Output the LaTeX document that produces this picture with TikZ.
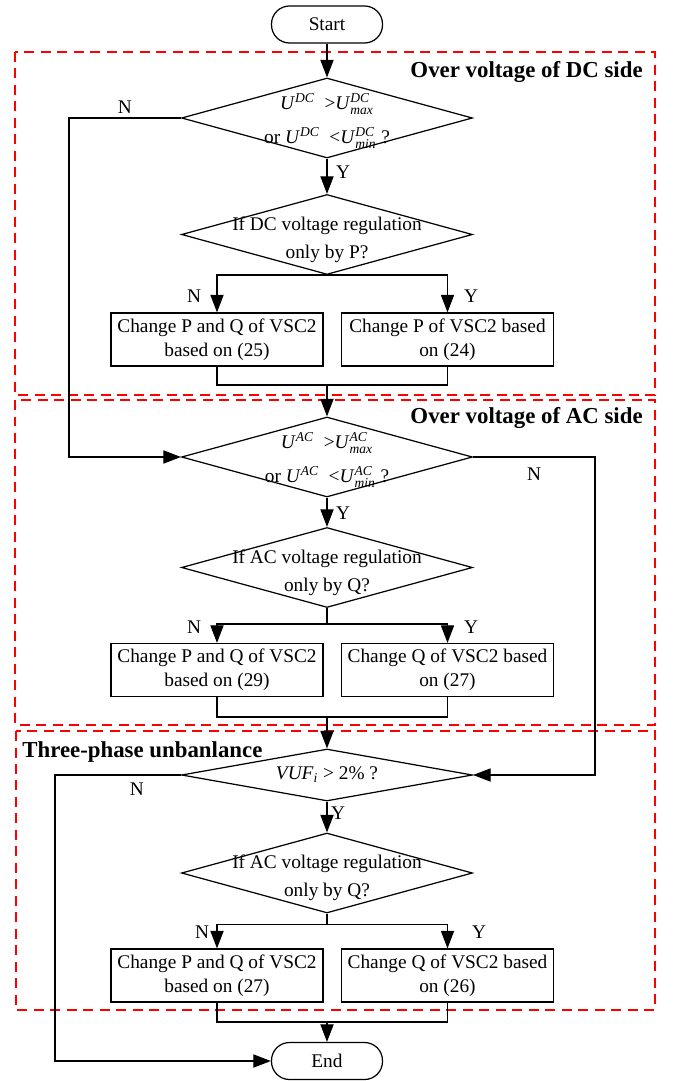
\documentclass[tikz,border=0pt]{standalone}
\usepackage{amsmath}
\usepackage{fontspec}
\setmainfont{Liberation Serif}
\usetikzlibrary{shapes.geometric,arrows.meta}

\newcommand{\uvar}[1]{\textit{U}$^{\textit{#1}}$}
\newcommand{\ulim}[2]{\textit{U}$^{\textit{#1}}_{\textit{#2}}$}

\begin{document}
\begin{tikzpicture}[
    x=0.02cm, y=-0.02cm,
    every node/.style={font=\fontsize{11pt}{13.6pt}\selectfont},
    terminal/.style={rectangle, draw, rounded corners=0.36cm, minimum width=2.22cm, minimum height=0.74cm, line width=0.7pt},
    decision/.style={diamond, draw, inner sep=0pt, minimum width=5.82cm, minimum height=1.6cm, line width=0.7pt},
    dtext/.style={align=center, inner sep=0pt, font=\fontsize{11pt}{16pt}\selectfont},
    twoline/.style={dtext, yshift=-0.1cm},
    process/.style={rectangle, draw, align=center, minimum width=4.24cm, minimum height=1.06cm, inner sep=1pt, line width=0.7pt},
    yn/.style={inner sep=0pt},
    sectitle/.style={inner sep=0pt, font=\fontsize{13pt}{15pt}\selectfont\bfseries},
    zone/.style={draw=red, line width=1.1pt, dash pattern=on 0.2cm off 0.13cm},
    link/.style={line width=0.7pt},
    arr/.style={line width=0.7pt, -{Triangle[length=10pt,width=7.5pt]}}
]
    \useasboundingbox (0,0) rectangle (673,1081);

    % regions
    \draw[zone] (15,52) rectangle (655,395);
    \draw[zone] (15,400) rectangle (655,725);
    \draw[zone] (16,731) rectangle (655,1010);
    \node[sectitle, anchor=east] (tdc) at (643,72) {Over voltage of DC side};
    \node[sectitle, anchor=east] (tac) at (643,418) {Over voltage of AC side};
    \node[sectitle, anchor=west] (tvuf) at (22,752) {Three-phase unbanlance};

    \node[terminal] (start) at (327,24.5) {Start};

    % DC side
    \node[decision, label={[dtext, yshift=-0.06cm]center:{\uvar{DC}\enspace>\ulim{DC}{max}\\[3pt]or \uvar{DC}\enspace<\ulim{DC}{min} ?}}] (dc1) at (327,118) {};
    \node[decision, label={[twoline]center:{If DC voltage regulation\\only by P?}}] (dc2) at (327,234.5) {};
    \node[process] (dcpq) at (217,339.5) {Change P and Q of VSC2\\based on (25)};
    \node[process] (dcp) at (447.5,339.5) {Change P of VSC2 based\\on (24)};
    \coordinate (m1) at (327,385);

    % AC side
    \node[decision, label={[dtext, yshift=-0.06cm]center:{\uvar{AC}\enspace>\ulim{AC}{max}\\[3pt]or \uvar{AC}\enspace<\ulim{AC}{min} ?}}] (ac1) at (327,457) {};
    \node[decision, label={[twoline]center:{If AC voltage regulation\\only by Q?}}] (ac2) at (327,567.5) {};
    \node[process] (acpq) at (217,670) {Change P and Q of VSC2\\based on (29)};
    \node[process] (acq) at (447.5,670) {Change Q of VSC2 based\\on (27)};
    \coordinate (m2) at (327,717);

    % three-phase unbalance
    \node[decision, minimum height=1.04cm, label={[dtext]center:{\textit{VUF}$_{\textit{i}}$ > 2\% ?}}] (vu1) at (327,775) {};
    \node[decision, label={[twoline]center:{If AC voltage regulation\\only by Q?}}] (vu2) at (327,873) {};
    \node[process] (vupq) at (217,975.5) {Change P and Q of VSC2\\based on (27)};
    \node[process] (vuq) at (447.5,975.5) {Change Q of VSC2 based\\on (26)};
    \coordinate (m3) at (327,1022);
    \node[terminal] (stop) at (327,1061) {End};

    % DC connectors
    \draw[arr] (start) -- (dc1);
    \draw[arr] (dc1) -- (dc2);
    \node[yn] (y1) at (343,172) {Y};
    \draw[arr] (dc2.south) -| (dcpq.north);
    \draw[arr] (dc2.south) -| (dcp.north);
    \node[yn] (n2) at (194,296) {N};
    \node[yn] (y2) at (471,296) {Y};
    \draw[link] (dcpq.south) |- (m1) -| (dcp.south);
    \draw[arr] (dc1.west) -- node[yn, above=0.07cm] (n1) {N} ++(-112,0) |- (ac1.west);

    % AC connectors
    \draw[arr] (m1) -- (ac1);
    \draw[arr] (ac1) -- (ac2);
    \node[yn] (y3) at (343,513) {Y};
    \draw[link] (ac2.south) -- ++(0,16) coordinate (s2);
    \draw[arr] (s2) -| (acpq.north);
    \draw[arr] (s2) -| (acq.north);
    \node[yn] (n4) at (194,627) {N};
    \node[yn] (y4) at (471,627) {Y};
    \draw[link] (acpq.south) |- (m2) -| (acq.south);
    \draw[arr] (ac1.east) -- node[yn, below=0.2cm] (n3) {N} ++(122,0) |- (vu1.east);

    % unbalance connectors
    \draw[arr] (m2) -- (vu1);
    \draw[arr] (vu1) -- (vu2);
    \node[yn] (y5) at (338,813) {Y};
    \draw[link] (vu2.south) -- ++(0,11) coordinate (s3);
    \draw[arr] (s3) -| (vupq.north);
    \draw[arr] (s3) -| (vuq.north);
    \node[yn] (n6) at (202,932) {N};
    \node[yn] (y6) at (479,932) {Y};
    \draw[link] (vupq.south) |- (m3) -| (vuq.south);
    \draw[arr] (m3) -- (stop);
    \draw[arr] (vu1.west) -- node[yn, below=0.15cm, pos=0.35] (n5) {N} ++(-126,0) |- (stop.west);
\end{tikzpicture}
\end{document}
